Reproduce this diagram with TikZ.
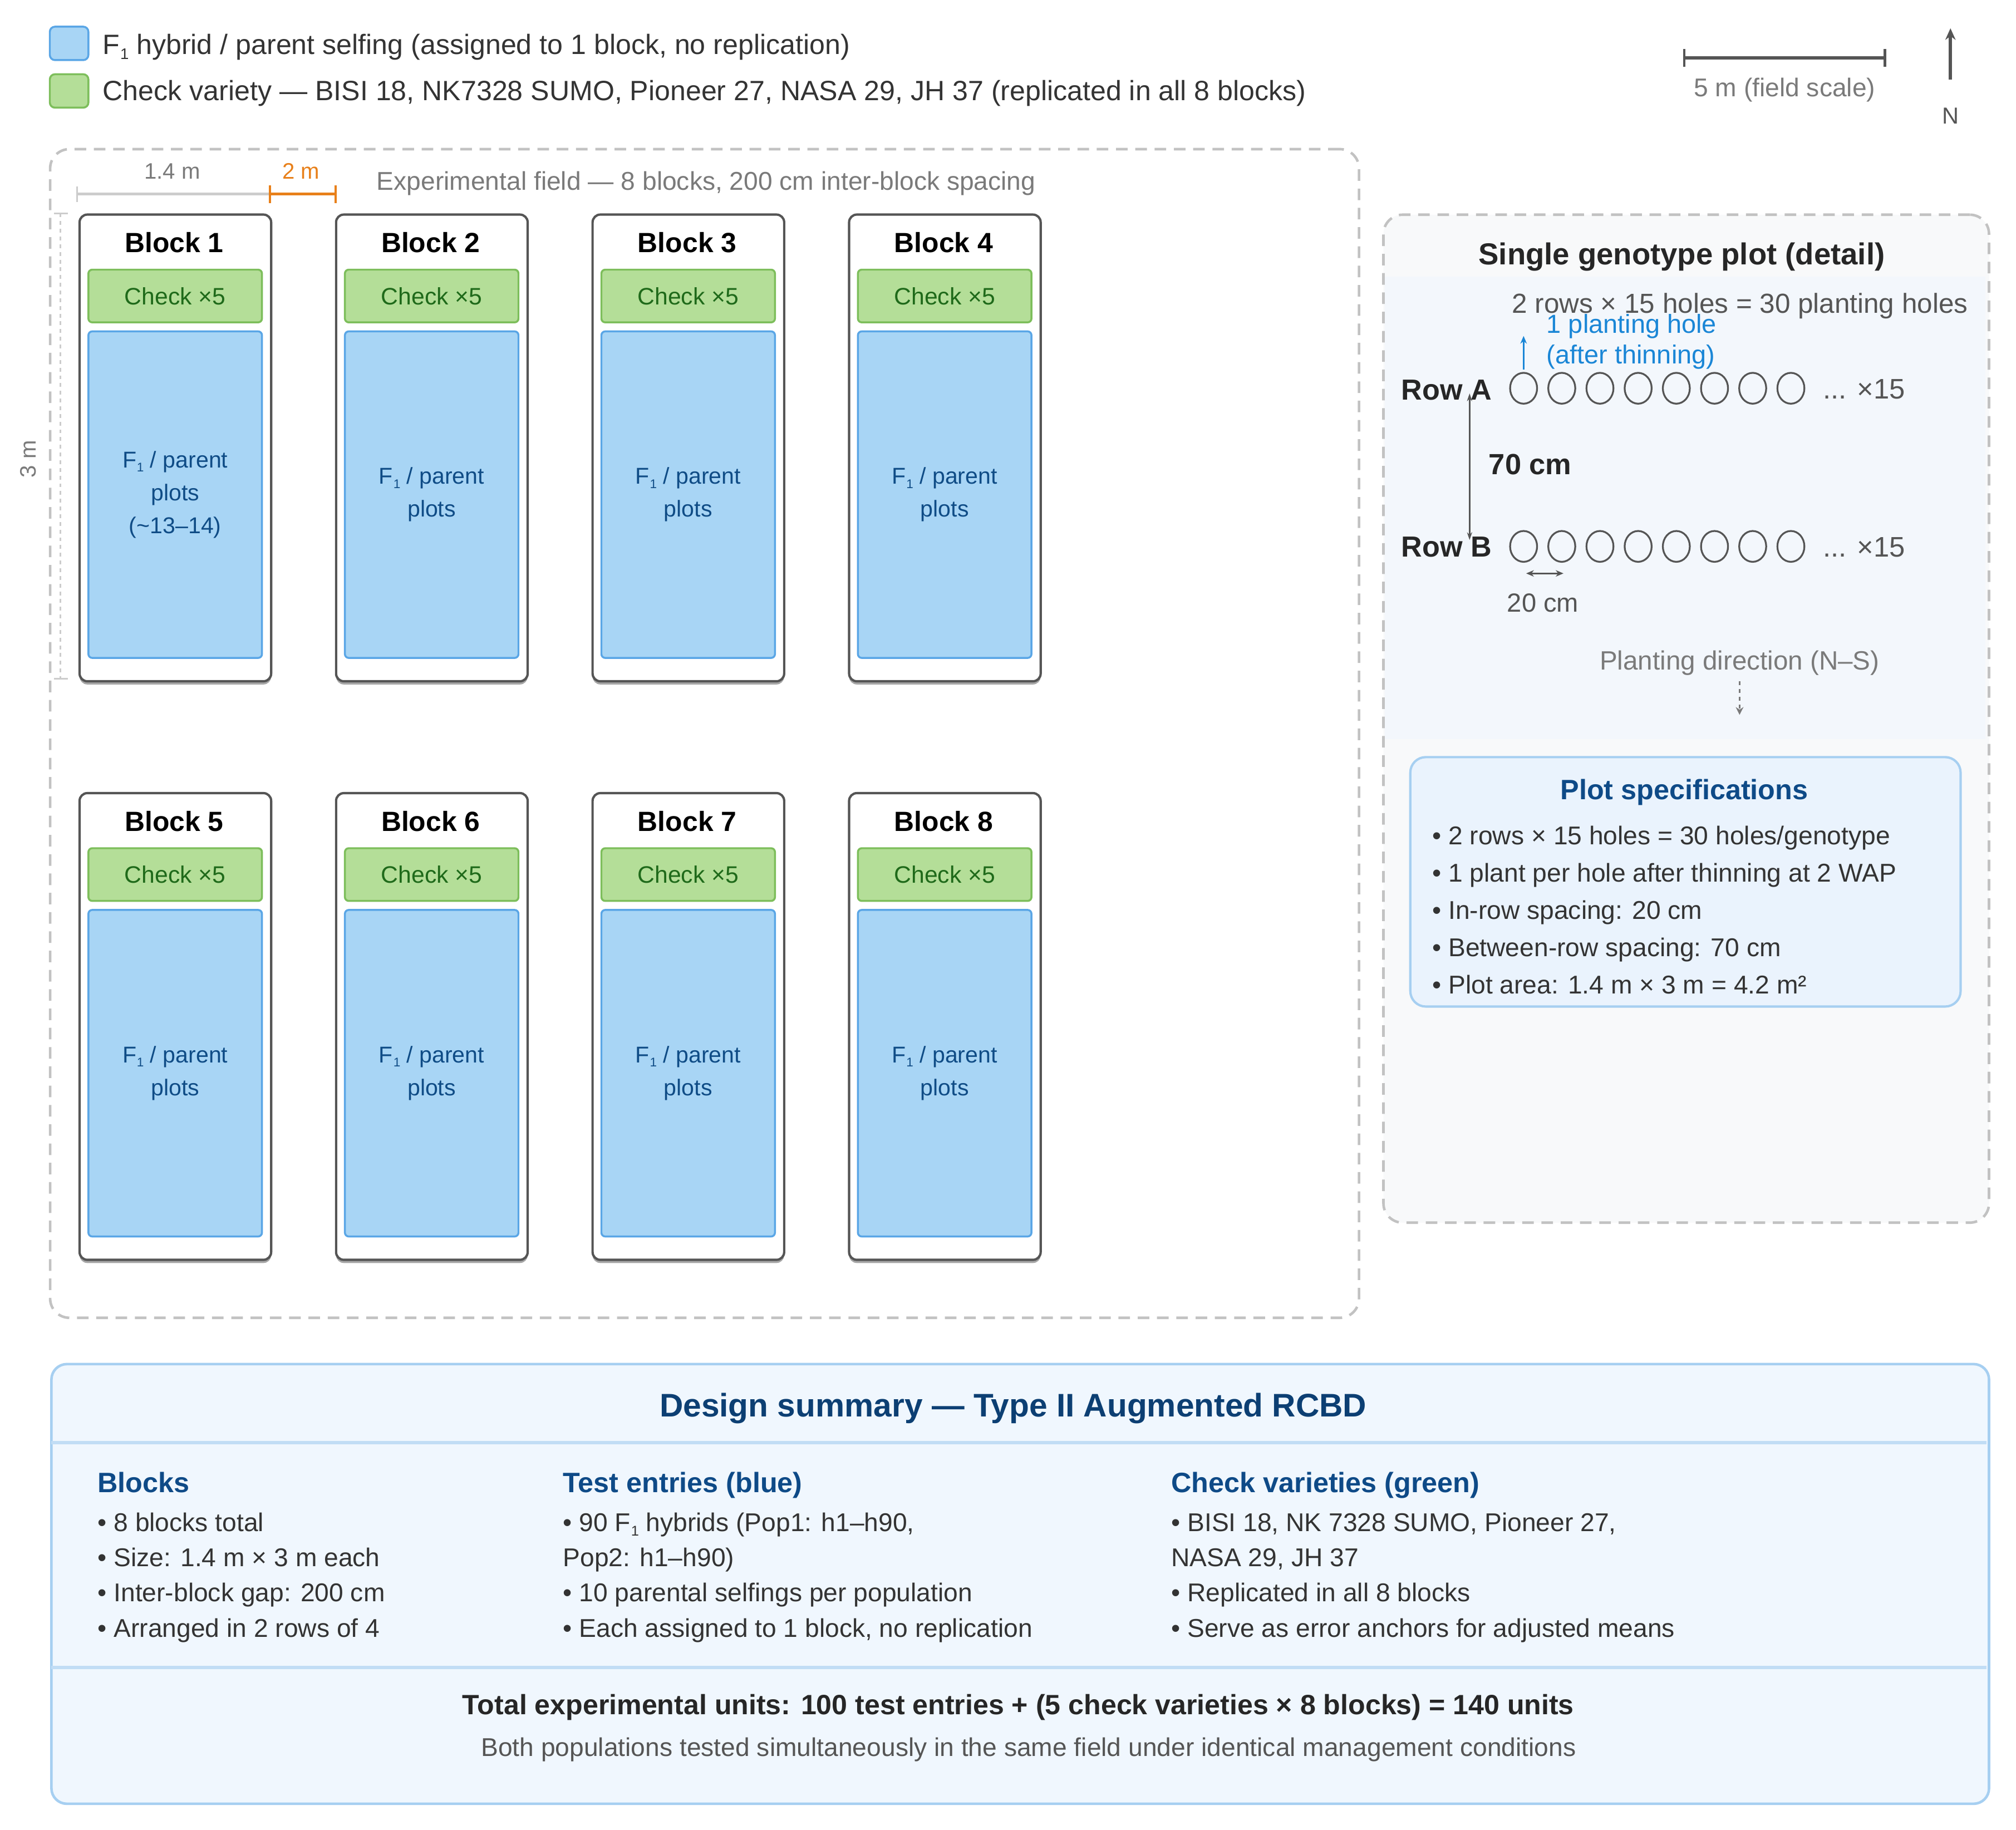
\documentclass[tikz,border=0pt]{standalone}
\usepackage{fontspec}
\usepackage{graphicx}
\setmainfont{Liberation Sans}
\usetikzlibrary{arrows.meta,shapes.geometric,shadows}

\definecolor{blockfill}{HTML}{A8D5F5}
\definecolor{blockdraw}{HTML}{5AA6E6}
\definecolor{blocktext}{HTML}{0F4C86}
\definecolor{chkfill}{HTML}{B4DE98}
\definecolor{chkdraw}{HTML}{7DBE5B}
\definecolor{chktext}{HTML}{1F6A1A}
\definecolor{darkblue}{HTML}{0C3F73}
\definecolor{headblue}{HTML}{0E4A87}
\definecolor{txtgray}{HTML}{333333}
\definecolor{midgray}{HTML}{555555}
\definecolor{lightgray}{HTML}{7A7A7A}
\definecolor{dashgray}{HTML}{C2C2C2}
\definecolor{dimgray}{HTML}{CCCCCC}
\definecolor{orangedim}{HTML}{E8801A}
\definecolor{sumfill}{HTML}{F0F7FE}
\definecolor{sumdraw}{HTML}{A6CFF1}
\definecolor{panelfill}{HTML}{F8F9FA}
\definecolor{panelblue}{HTML}{F3F7FC}
\definecolor{specfill}{HTML}{EAF3FD}
\definecolor{holeblue}{HTML}{1A86D6}

\newcommand{\fsz}[2]{\fontsize{#1}{#2}\selectfont}
\newcommand{\Fone}{F\kern0.3pt\raisebox{-0.18em}{\scalebox{0.55}{1}}}

\tikzset{
  t/.style={inner sep=0pt, outer sep=0pt},
  swatch/.style={rounded corners=4pt, line width=1.5pt, minimum width=30pt, minimum height=26pt, inner sep=0pt, anchor=north west},
  blockbox/.style={draw=midgray, line width=1.8pt, fill=white, rounded corners=6pt,
    minimum width=149pt, minimum height=363pt, anchor=north west, inner sep=0pt,
    drop shadow={shadow xshift=0pt, shadow yshift=-2.5pt, opacity=0.35, fill=black}},
  chkbox/.style={draw=chkdraw, line width=1.5pt, fill=chkfill, rounded corners=3pt,
    minimum width=135pt, minimum height=41pt, anchor=north west, inner sep=0pt,
    text=chktext, font=\fsz{18.5}{22}},
  plotbox/.style={draw=blockdraw, line width=1.5pt, fill=blockfill, rounded corners=3pt,
    minimum width=135pt, minimum height=254pt, anchor=north west, inner sep=0pt,
    text=blocktext, align=center, font=\fsz{17.8}{25.5}},
  blocktitle/.style={t, font=\bfseries\fsz{21.6}{25}, text=black, anchor=base},
  hole/.style={ellipse, draw=midgray, line width=1.4pt, minimum width=21pt, minimum height=24pt, inner sep=0pt},
  bodytxt/.style={t, text=txtgray, font=\fsz{20}{27.4}, align=left, anchor=base west},
  headtxt/.style={t, text=headblue, font=\bfseries\fsz{21.8}{26}, anchor=base west},
}

\begin{document}
\begin{tikzpicture}[x=1pt, y=-1pt]
\useasboundingbox[fill=white] (0,0) rectangle (1568,1423);

% ---------------- legend ----------------
\node[swatch, fill=blockfill, draw=blockdraw] (lg1) at (38,20) {};
\node[t, anchor=base west, font=\fsz{21.7}{24}, text=txtgray] (lgt1) at (80,42) {\Fone{} hybrid / parent selfing (assigned to 1 block, no replication)};
\node[swatch, fill=chkfill, draw=chkdraw] (lg2) at (38,57) {};
\node[t, anchor=base west, font=\fsz{21.7}{24}, text=txtgray] (lgt2) at (80,78) {Check variety — BISI 18, NK7328 SUMO, Pioneer 27, NASA 29, JH 37 (replicated in all 8 blocks)};

% ---------------- scale bar & north ----------------
\coordinate (sb1) at (1310,45);
\coordinate (sb2) at (1466,45);
\draw[line width=2.5pt, draw=midgray] (sb1) -- (sb2);
\draw[line width=2pt, draw=midgray] ([yshift=7pt]sb1) -- ([yshift=-7pt]sb1);
\draw[line width=2pt, draw=midgray] ([yshift=7pt]sb2) -- ([yshift=-7pt]sb2);
\node[t, anchor=base, font=\fsz{20}{22}, text=lightgray] (sbl) at (1388,75) {5 m (field scale)};
\coordinate (na1) at (1517,62);
\coordinate (na2) at (1517,22);
\draw[line width=2.5pt, draw=midgray, -{Stealth[length=9pt,width=8pt]}] (na1) -- (na2);
\node[t, anchor=base, font=\fsz{18}{22}, text=midgray] (nn) at (1517,96.5) {N};

% ---------------- experimental field ----------------
\node[draw=dashgray, line width=2pt, dash pattern=on 9pt off 6pt, rounded corners=15pt,
  minimum width=1018pt, minimum height=909pt, anchor=north west, inner sep=0pt] (field) at (38,115) {};
\node[t, anchor=base west, font=\fsz{20}{22}, text=lightgray] (ftitle) at (293,148) {Experimental field — 8 blocks, 200 cm inter-block spacing};

% width dimension
\coordinate (d1) at (60,151);
\coordinate (d2) at (210,151);
\coordinate (d3) at (261,151);
\draw[line width=2pt, draw=dimgray] (d1) -- (d2);
\draw[line width=1.5pt, draw=dimgray] ([yshift=-6pt]d1) -- ([yshift=6pt]d1);
\draw[line width=2pt, draw=orangedim] (d2) -- (d3);
\draw[line width=1.8pt, draw=orangedim] ([yshift=-7pt]d2) -- ([yshift=7pt]d2);
\draw[line width=1.8pt, draw=orangedim] ([yshift=-7pt]d3) -- ([yshift=7pt]d3);
\node[t, anchor=base, font=\fsz{17.4}{20}, text=lightgray] (w14) at (134,139) {1.4 m};
\node[t, anchor=base, font=\fsz{17.4}{20}, text=orangedim] (w2) at (234,139) {2 m};

% height dimension
\coordinate (h1) at (47,166);
\coordinate (h2) at (47,528);
\draw[line width=1.5pt, draw=dimgray, dash pattern=on 3pt off 3pt] (h1) -- (h2);
\draw[line width=1.3pt, draw=dimgray] ([xshift=-5pt]h1) -- ([xshift=6pt]h1);
\draw[line width=1.3pt, draw=dimgray] ([xshift=-5pt]h2) -- ([xshift=6pt]h2);
\node[t, rotate=90, font=\fsz{17.4}{20}, text=lightgray] (h3m) at (22,357) {3 m};

% blocks
\foreach \i in {1,...,8} {
  \pgfmathsetmacro\col{int(mod(\i-1,4))}
  \pgfmathsetmacro\row{int((\i-1)/4)}
  \pgfmathsetmacro\xl{61+199.5*\col}
  \pgfmathsetmacro\yt{166+450*\row}
  \node[blockbox] (blk\i) at (\xl,\yt) {};
  \node[blocktitle] (bt\i) at (\xl+74.5,\yt+30.5) {Block \i};
  \node[chkbox] (chk\i) at (\xl+7,\yt+43) {Check ×5};
  \node[plotbox] (plt\i) at (\xl+7,\yt+91) {\ifnum\i=1 \Fone{} / parent\\plots\\(\textasciitilde13–14)\else \Fone{} / parent\\plots\fi};
}

% ---------------- right detail panel ----------------
\node[draw=dashgray, fill=panelfill, line width=2pt, dash pattern=on 9pt off 6pt, rounded corners=15pt,
  minimum width=471pt, minimum height=784pt, anchor=north west, inner sep=0pt] (panel) at (1075,166) {};
\fill[panelblue] (1077,215) rectangle (1544,575);
\node[t, anchor=base, font=\bfseries\fsz{23.6}{27}, text=black!85] (ptitle) at (1308,206) {Single genotype plot (detail)};
\node[t, anchor=base west, font=\fsz{21.4}{25}, text=midgray] (psub) at (1176,243.5) {2 rows × 15 holes = 30 planting holes};
\node[t, anchor=base west, font=\fsz{20.3}{24}, text=holeblue, align=left] (phole) at (1203,283) {1 planting hole\\(after thinning)};

\node[t, anchor=base west, font=\bfseries\fsz{22.6}{26}, text=black!85] (rowA) at (1090,311) {Row A};
\node[t, anchor=base west, font=\bfseries\fsz{22.6}{26}, text=black!85] (rowB) at (1090,433) {Row B};
\foreach \k in {0,...,7} {
  \node[hole] (ha\k) at (1185+29.7*\k,302) {};
  \node[hole] (hb\k) at (1185+29.7*\k,425) {};
}
\node[t, anchor=base west, font=\fsz{22}{25}, text=midgray] (xa) at (1418,310) {... ×15};
\node[t, anchor=base west, font=\fsz{22}{25}, text=midgray] (xb) at (1418,433) {... ×15};

\draw[line width=1.5pt, draw=holeblue, -{Stealth[length=6pt,width=5pt]}] (ha0.north) ++(0,-2) -- ++(0,-26);
\coordinate (va1) at (1143,306);
\coordinate (va2) at (1143,420);
\draw[line width=1.2pt, draw=midgray, {Stealth[length=6pt,width=4pt]}-{Stealth[length=6pt,width=4pt]}] (va1) -- (va2);
\node[t, anchor=base west, font=\bfseries\fsz{22.7}{26}, text=black!85] (c70) at (1158,369) {70 cm};
\coordinate (ha1) at (1187,446);
\coordinate (ha2) at (1216,446);
\draw[line width=1.2pt, draw=midgray, {Stealth[length=6pt,width=5pt]}-{Stealth[length=6pt,width=5pt]}] (ha1) -- (ha2);
\node[t, anchor=base, font=\fsz{20.4}{24}, text=midgray] (c20) at (1200,476) {20 cm};
\node[t, anchor=base, font=\fsz{20.6}{24}, text=lightgray] (pdir) at (1353,521) {Planting direction (N–S)};
\coordinate (pd1) at (1353,530);
\coordinate (pd2) at (1353,556);
\draw[line width=1pt, draw=lightgray, dash pattern=on 3pt off 3pt, -{Stealth[length=6pt,width=6pt]}] (pd1) -- (pd2);

% plot specifications
\node[draw=sumdraw, fill=specfill, line width=1.8pt, rounded corners=12pt,
  minimum width=428pt, minimum height=194pt, anchor=north west, inner sep=0pt] (spec) at (1096,588) {};
\node[t, anchor=base, font=\bfseries\fsz{21.8}{26}, text=headblue] (spect) at (1310,622) {Plot specifications};
\node[t, anchor=base west, font=\fsz{20}{29}, text=txtgray, align=left] (specb) at (1114,773) {• 2 rows × 15 holes = 30 holes/genotype\\• 1 plant per hole after thinning at 2 WAP\\• In-row spacing: 20 cm\\• Between-row spacing: 70 cm\\• Plot area: 1.4 m × 3 m = 4.2 m²};

% ---------------- design summary ----------------
\node[draw=sumdraw, fill=sumfill, line width=2pt, rounded corners=12pt,
  minimum width=1507pt, minimum height=342pt, anchor=north west, inner sep=0pt] (summ) at (39,1060) {};
\coordinate (s1l) at (40,1122); \coordinate (s1r) at (1545,1122);
\coordinate (s2l) at (40,1297); \coordinate (s2r) at (1545,1297);
\draw[line width=2.5pt, draw=sumdraw!70] (s1l) -- (s1r);
\draw[line width=2.5pt, draw=sumdraw!70] (s2l) -- (s2r);
\node[t, anchor=base, font=\bfseries\fsz{25.4}{30}, text=darkblue] (stitle) at (788,1102) {Design summary — Type II Augmented RCBD};

\node[headtxt] (hc1) at (76,1161) {Blocks};
\node[headtxt] (hc2) at (438,1161) {Test entries (blue)};
\node[headtxt] (hc3) at (911,1161) {Check varieties (green)};
\node[bodytxt] (bc1) at (76,1273.2) {• 8 blocks total\\• Size: 1.4 m × 3 m each\\• Inter-block gap: 200 cm\\• Arranged in 2 rows of 4};
\node[bodytxt] (bc2) at (438,1273.2) {• 90 \Fone{} hybrids (Pop1: h1–h90,\\Pop2: h1–h90)\\• 10 parental selfings per population\\• Each assigned to 1 block, no replication};
\node[bodytxt] (bc3) at (911,1273.2) {• BISI 18, NK 7328 SUMO, Pioneer 27,\\NASA 29, JH 37\\• Replicated in all 8 blocks\\• Serve as error anchors for adjusted means};

\node[t, anchor=base, font=\bfseries\fsz{21.7}{25}, text=black!85] (tot) at (792,1333.5) {Total experimental units: 100 test entries + (5 check varieties × 8 blocks) = 140 units};
\node[t, anchor=base, font=\fsz{20}{22}, text=midgray] (both) at (800,1366) {Both populations tested simultaneously in the same field under identical management conditions};
\end{tikzpicture}
\end{document}
